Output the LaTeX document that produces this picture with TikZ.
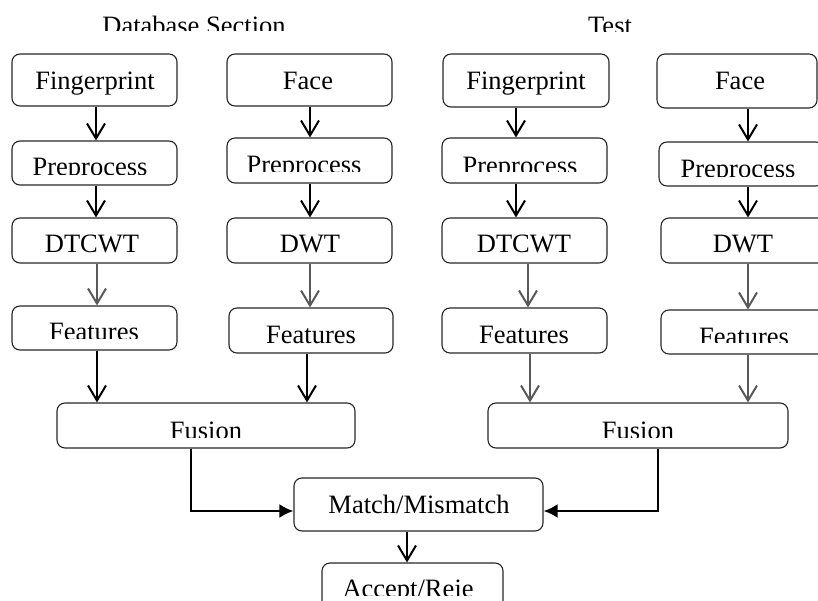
\documentclass[tikz,border=0pt]{standalone}
\usepackage{fontspec}
\setmainfont{Liberation Serif}
\usetikzlibrary{arrows.meta}
\tikzset{
  box/.style={draw=black!85, line width=1.1pt, rounded corners=8pt, inner sep=0pt},
  lbl/.style={anchor=base, inner sep=0pt, font=\fontsize{26.5}{30}\selectfont},
  flow/.style={line width=2pt, -{Straight Barb[length=15pt,width=18pt,line width=2pt]}},
  flowgray/.style={flow, draw=black!65},
  mergeline/.style={line width=2.4pt, -{Latex[length=14pt,width=14pt]}},
}
% label whose lower part is cut off at a given height
\newcommand\cuttext[5]{%
  \begin{scope}
    \clip ({#2-150},{#4}) rectangle ({#2+150},{#3-40});
    \node[lbl] (#1) at (#2,#3) {#5};
  \end{scope}}
\begin{document}
\begin{tikzpicture}[x=1pt,y=-1pt]
\clip (0,0) rectangle (818,601);

% section titles
\cuttext{tdb}{194}{34.5}{31}{Database Section}
\cuttext{ttest}{610}{34.5}{32}{Test}

% database column: fingerprint
\node[box, minimum width=165pt, minimum height=52pt] (fpA) at (94.5,80) {};
\node[box, minimum width=165pt, minimum height=44pt] (ppA) at (94.5,163) {};
\node[box, minimum width=165pt, minimum height=45pt] (dtA) at (94.5,240.5) {};
\node[box, minimum width=165pt, minimum height=44pt] (ftA) at (94.5,328) {};
% database column: face
\node[box, minimum width=165pt, minimum height=52pt] (faA) at (309.5,80) {};
\node[box, minimum width=165pt, minimum height=45pt] (pfA) at (309.5,160.5) {};
\node[box, minimum width=165pt, minimum height=45pt] (dwA) at (309.5,240.5) {};
\node[box, minimum width=164pt, minimum height=45pt] (ffA) at (311,330.5) {};
\node[box, minimum width=298pt, minimum height=45pt] (fsA) at (206,425.5) {};

% test column: fingerprint
\node[box, minimum width=166pt, minimum height=53pt] (fpB) at (526,80.5) {};
\node[box, minimum width=165pt, minimum height=45pt] (ppB) at (524.5,160.5) {};
\node[box, minimum width=165pt, minimum height=45pt] (dtB) at (524.5,240.5) {};
\node[box, minimum width=165pt, minimum height=45pt] (ftB) at (524.5,330.5) {};
% test column: face
\node[box, minimum width=160pt, minimum height=54pt] (faB) at (737,81) {};
\node[box, minimum width=165pt, minimum height=44pt] (pfB) at (741.5,164) {};
\node[box, minimum width=165pt, minimum height=45pt] (dwB) at (743.5,240.5) {};
\node[box, minimum width=165pt, minimum height=44pt] (ffB) at (743.5,332) {};
\node[box, minimum width=300pt, minimum height=45pt] (fsB) at (638,425.5) {};

% decision
\node[box, minimum width=249pt, minimum height=53pt] (mm) at (418.5,504.5) {};
\node[box, minimum width=181pt, minimum height=77pt] (ar) at (412.5,601.5) {};

% labels
\node[lbl] (l1) at (95,89.5) {Fingerprint};
\node[lbl] (l2) at (308,89.5) {Face};
\node[lbl] (l3) at (526,89.5) {Fingerprint};
\node[lbl] (l4) at (740,89.5) {Face};
\cuttext{l5}{90}{176}{175}{Preprocess}
\cuttext{l6}{304}{173.5}{172}{Preprocess}
\cuttext{l7}{520}{174.5}{172}{Preprocess}
\cuttext{l8}{738}{177.5}{177}{Preprocess}
\node[lbl] (l9) at (92,252.5) {DTCWT};
\node[lbl] (l10) at (310,252.5) {DWT};
\node[lbl] (l11) at (524,252.5) {DTCWT};
\node[lbl] (l12) at (743,252.5) {DWT};
\cuttext{l13}{94}{340.5}{338}{Features}
\node[lbl] (l14) at (311,343) {Features};
\node[lbl] (l15) at (524,343) {Features};
\cuttext{l16}{744}{345.5}{342}{Features}
\cuttext{l17}{206}{439}{437}{Fusion}
\cuttext{l18}{638}{439}{437}{Fusion}
\node[lbl] (l19) at (419,513) {Match/Mismatch};
\cuttext{l20}{408}{597.5}{595}{Accept/Reje}

% database connectors
\draw[flow] (fpA.south -| 96,0) -- (ppA.north -| 96,0);
\draw[flow] (ppA.south -| 96,0) -- (dtA.north -| 96,0);
\draw[flowgray] (dtA.south -| 97,0) -- (ftA.north -| 97,0);
\draw[flow] (ftA.south -| 97,0) -- (fsA.north -| 97,0);
\draw[flow] (faA.south -| 310,0) -- (pfA.north -| 310,0);
\draw[flow] (pfA.south -| 310,0) -- (dwA.north -| 310,0);
\draw[flowgray] (dwA.south -| 310,0) -- (ffA.north -| 310,0);
\draw[flow] (ffA.south -| 307,0) -- (fsA.north -| 307,0);

% test connectors
\draw[flow] (fpB.south -| 516,0) -- (ppB.north -| 516,0);
\draw[flow] (ppB.south -| 516,0) -- (dtB.north -| 516,0);
\draw[flowgray] (dtB.south -| 528,0) -- (ftB.north -| 528,0);
\draw[flowgray] (ftB.south -| 530,0) -- (fsB.north -| 530,0);
\draw[flow] (faB.south -| 748,0) -- (pfB.north -| 748,0);
\draw[flow] (pfB.south -| 748,0) -- (dwB.north -| 748,0);
\draw[flowgray] (dwB.south -| 748,0) -- (ffB.north -| 748,0);
\draw[flowgray] (ffB.south -| 748,0) -- (fsB.north -| 748,0);

% fusion results into matching
\draw[mergeline] (fsA.south -| 191,0) |- (mm.west |- 0,511);
\draw[mergeline] (fsB.south -| 658,0) |- (mm.east |- 0,511);
\draw[flow] (mm.south -| 407,0) -- (ar.north -| 407,0);
\end{tikzpicture}
\end{document}
